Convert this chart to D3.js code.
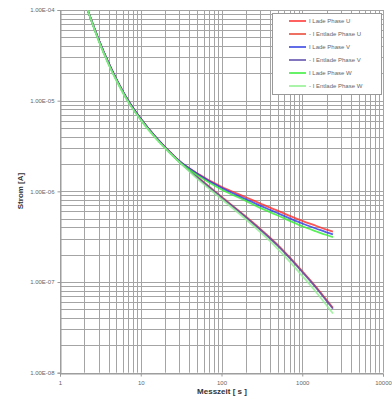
<!DOCTYPE html>
<html>
<head>
<meta charset="utf-8">
<script src="https://cdn.jsdelivr.net/npm/d3@7"></script>
<style>
  body { margin: 0; background: #fff; }
  svg { display: block; }
</style>
</head>
<body>
<div id="chart"></div>
<script>
// Messzeit in s (shared by all series)
var messzeit = [2.2, 3, 4, 5, 7, 10, 15, 20, 30, 50, 100, 200, 300, 400, 500, 700, 1000, 1500, 2000, 2400];

// Strom in A
var ladeU =     [1.0e-4, 4.75e-5, 2.59e-5, 1.72e-5, 1.0e-5, 6.31e-6, 4.04e-6, 3.07e-6, 2.17e-6, 1.585e-6, 1.122e-6, 8.61e-7, 7.38e-7, 6.61e-7, 6.1e-7, 5.37e-7, 4.73e-7, 4.15e-7, 3.78e-7, 3.59e-7];
var entladeU =  [1.0e-4, 4.75e-5, 2.59e-5, 1.72e-5, 1.0e-5, 6.31e-6, 4.04e-6, 3.07e-6, 2.14e-6, 1.45e-6, 8.73e-7, 5.28e-7, 3.88e-7, 3.08e-7, 2.55e-7, 1.87e-7, 1.32e-7, 8.73e-8, 6.35e-8, 5.2e-8];
var ladeV =     [1.0e-4, 4.75e-5, 2.59e-5, 1.72e-5, 1.0e-5, 6.3e-6, 4.03e-6, 3.06e-6, 2.16e-6, 1.567e-6, 1.096e-6, 8.22e-7, 6.97e-7, 6.24e-7, 5.73e-7, 5.04e-7, 4.42e-7, 3.87e-7, 3.53e-7, 3.35e-7];
var entladeV =  [1.0e-4, 4.75e-5, 2.59e-5, 1.72e-5, 1.0e-5, 6.3e-6, 4.03e-6, 3.06e-6, 2.12e-6, 1.43e-6, 8.58e-7, 5.18e-7, 3.80e-7, 3.02e-7, 2.5e-7, 1.83e-7, 1.29e-7, 8.53e-8, 6.2e-8, 5.08e-8];
var ladeW =     [1.0e-4, 4.62e-5, 2.52e-5, 1.67e-5, 9.7e-6, 6.14e-6, 3.93e-6, 2.99e-6, 2.11e-6, 1.51e-6, 1.047e-6, 7.85e-7, 6.58e-7, 5.89e-7, 5.41e-7, 4.73e-7, 4.12e-7, 3.61e-7, 3.30e-7, 3.13e-7];
var entladeW =  [1.0e-4, 4.62e-5, 2.52e-5, 1.67e-5, 9.7e-6, 6.14e-6, 3.93e-6, 2.99e-6, 2.11e-6, 1.38e-6, 8.24e-7, 4.93e-7, 3.58e-7, 2.82e-7, 2.31e-7, 1.68e-7, 1.17e-7, 7.67e-8, 5.54e-8, 4.5e-8];

var seriesNames = ['I Lade Phase U', '- I Entlade Phase U', 'I Lade Phase V', '- I Entlade Phase V', 'I Lade Phase W', '- I Entlade Phase W'];
var seriesValues = [ladeU, entladeU, ladeV, entladeV, ladeW, entladeW];
var seriesColors = ['#ff2b2b', '#e8402f', '#2b3be0', '#5a48aa', '#33ee33', '#8ef08e'];

var xTicks = [1, 10, 100, 1000, 10000];
var yTicks = [1e-8, 1e-7, 1e-6, 1e-5, 1e-4];

(function() {
  var width = 392, height = 396;
  var mLeft = 60, mRight = 383, mTop = 10, mBottom = 372.7;

  var svg = d3.select('#chart').append('svg')
    .attr('width', width).attr('height', height);

  var x = d3.scaleLog().domain([1, 10000]).range([mLeft, mRight]);
  var y = d3.scaleLog().domain([1e-8, 1e-4]).range([mBottom, mTop]);

  var sciFormat = function(d) {
    var e = Math.round(Math.log10(d));
    var s = Math.abs(e) < 10 ? '0' + Math.abs(e) : '' + Math.abs(e);
    return '1.00E' + (e < 0 ? '-' : '+') + s;
  };

  // grid lines (minor + major)
  var xGrid = [], yGrid = [];
  xTicks.slice(0, -1).forEach(function(d) {
    for (var k = 1; k <= 9; k++) xGrid.push(d * k);
  });
  xGrid.push(10000);
  yTicks.slice(0, -1).forEach(function(d) {
    for (var k = 1; k <= 9; k++) yGrid.push(d * k);
  });
  yGrid.push(1e-4);

  var grid = svg.append('g');
  grid.selectAll('line.gx').data(xGrid).enter().append('line')
    .attr('x1', function(d) { return Math.round(x(d)) + 0.5; })
    .attr('x2', function(d) { return Math.round(x(d)) + 0.5; })
    .attr('y1', mTop).attr('y2', mBottom)
    .attr('stroke', '#a4a4a4').attr('stroke-width', 1);
  grid.selectAll('line.gy').data(yGrid).enter().append('line')
    .attr('y1', function(d) { return Math.round(y(d)) + 0.5; })
    .attr('y2', function(d) { return Math.round(y(d)) + 0.5; })
    .attr('x1', mLeft).attr('x2', mRight)
    .attr('stroke', '#a4a4a4').attr('stroke-width', 1);

  // axes
  var yAxis = d3.axisLeft(y).tickValues(yTicks).tickFormat(sciFormat).tickSize(3).tickPadding(3);
  var xAxis = d3.axisBottom(x).tickValues(xTicks).tickFormat(d3.format('d')).tickSize(3).tickPadding(4);

  var gy = svg.append('g').attr('transform', 'translate(' + (mLeft + 0.5) + ',0)').call(yAxis);
  var gx = svg.append('g').attr('transform', 'translate(0,' + (Math.round(mBottom) + 0.5) + ')').call(xAxis);
  [gx, gy].forEach(function(g) {
    g.select('.domain').attr('stroke', '#999');
    g.selectAll('.tick line').attr('stroke', '#999');
    g.selectAll('text').attr('font-size', 6).attr('font-family', 'Liberation Sans, Arial').attr('fill', '#666');
  });

  // clip region for curves
  svg.append('clipPath').attr('id', 'plot-clip').append('rect')
    .attr('x', mLeft).attr('y', mTop).attr('width', mRight - mLeft).attr('height', mBottom - mTop);

  var line = d3.line()
    .x(function(d, i) { return x(messzeit[i]); })
    .y(function(d) { return y(d); })
    .curve(d3.curveMonotoneX);

  var curves = svg.append('g').attr('clip-path', 'url(#plot-clip)');
  seriesValues.forEach(function(vals, i) {
    curves.append('path').datum(vals)
      .attr('d', line)
      .attr('fill', 'none')
      .attr('stroke', seriesColors[i])
      .attr('stroke-width', 1.8)
      .attr('stroke-opacity', 0.8)
      .attr('stroke-linejoin', 'round');
  });

  // legend
  var legend = svg.append('g');
  legend.append('rect')
    .attr('x', 272.5).attr('y', 13.5).attr('width', 109).attr('height', 81)
    .attr('fill', '#fff').attr('stroke', '#999').attr('stroke-width', 1);
  var item = legend.selectAll('g.item').data(seriesNames).enter().append('g')
    .attr('transform', function(d, i) { return 'translate(0,' + (21 + i * 13) + ')'; });
  item.append('line')
    .attr('x1', 289).attr('x2', 306).attr('y1', 0).attr('y2', 0)
    .attr('stroke', function(d, i) { return seriesColors[i]; })
    .attr('stroke-width', 1.5);
  item.append('text')
    .attr('x', 309).attr('y', 2)
    .attr('font-size', 6).attr('font-family', 'Liberation Sans, Arial').attr('fill', '#666')
    .text(function(d) { return d; });

  // axis titles
  svg.append('text')
    .attr('transform', 'translate(23,191) rotate(-90)')
    .attr('text-anchor', 'middle')
    .attr('font-size', 8).attr('font-weight', 'bold')
    .attr('font-family', 'Liberation Sans, Arial').attr('fill', '#333')
    .text('Strom [A]');
  svg.append('text')
    .attr('x', 222).attr('y', 394)
    .attr('text-anchor', 'middle')
    .attr('font-size', 8).attr('font-weight', 'bold')
    .attr('font-family', 'Liberation Sans, Arial').attr('fill', '#333')
    .text('Messzeit [ s ]');
})();
</script>
</body>
</html>
